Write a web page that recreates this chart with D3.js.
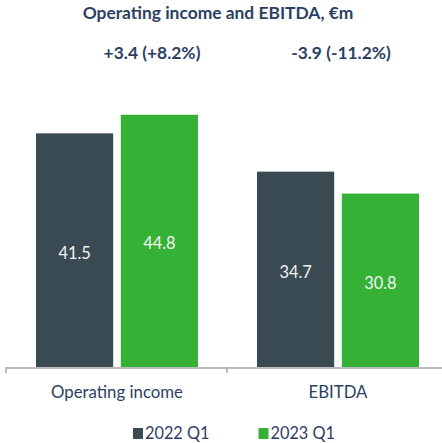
<!DOCTYPE html>
<html>
<head>
<meta charset="utf-8">
<script src="https://cdn.jsdelivr.net/npm/d3@7"></script>
<style>
  body { margin: 0; background: #fff; }
  svg { font-family: Lato, "Open Sans", sans-serif; }
</style>
</head>
<body>
<div id="chart"></div>
<script>
// data
var categories = ["Operating income", "EBITDA"];
var series = ["2022 Q1", "2023 Q1"];
var values2022 = [41.5, 34.7];
var values2023 = [44.8, 30.8];
var changes = ["+3.4 (+8.2%)", "-3.9 (-11.2%)"];
var title = "Operating income and EBITDA, €m";

var width = 442, height = 443;
var colors = ["#3a4a52", "#35b236"];
var textColor = "#2c3f63";

var svg = d3.select("#chart").append("svg")
    .attr("width", width)
    .attr("height", height);

var rows = categories.map(function (c, i) {
    return { cat: c, vals: [values2022[i], values2023[i]], change: changes[i] };
});

var x0 = d3.scaleBand().domain(categories).range([6, 448]).paddingInner(0).paddingOuter(0);
var x1 = d3.scaleBand().domain(series).range([30, 192]).paddingInner(0.09).paddingOuter(0);
var y = d3.scaleLinear().domain([0, 45]).range([367, 367 - 45 * 5.63]);

// title
svg.append("text")
    .attr("x", 218).attr("y", 19)
    .attr("text-anchor", "middle")
    .attr("font-size", 17.4).attr("font-weight", "bold")
    .attr("fill", textColor)
    .text(title);

var group = svg.selectAll(".grp")
    .data(rows)
    .enter().append("g")
    .attr("class", "grp")
    .attr("transform", function (d) { return "translate(" + x0(d.cat) + ",0)"; });

group.selectAll("rect")
    .data(function (d) { return d.vals.map(function (v, i) { return { s: series[i], v: v, i: i }; }); })
    .enter().append("rect")
    .attr("x", function (d) { return x1(d.s); })
    .attr("width", x1.bandwidth())
    .attr("y", function (d) { return y(d.v); })
    .attr("height", function (d) { return y(0) - y(d.v); })
    .attr("fill", function (d) { return colors[d.i]; });

// value labels inside bars
group.selectAll(".val")
    .data(function (d) { return d.vals.map(function (v, i) { return { s: series[i], v: v }; }); })
    .enter().append("text")
    .attr("x", function (d) { return x1(d.s) + x1.bandwidth() / 2; })
    .attr("y", function (d) { return (y(d.v) + y(0)) / 2 + 8.5; })
    .attr("text-anchor", "middle")
    .attr("font-size", 16.4)
    .attr("fill", "#f2f2f2")
    .text(function (d) { return d3.format(".1f")(d.v); });

// change labels
group.append("text")
    .attr("x", function (d, i) { return i == 0 ? 146 : 114; })
    .attr("y", 58.5)
    .attr("text-anchor", "middle")
    .attr("font-size", 17.4).attr("font-weight", "bold")
    .attr("fill", textColor)
    .text(function (d) { return d.change; });

// axis
var axis = svg.append("g")
    .attr("transform", "translate(0," + 367.5 + ")")
    .call(d3.axisBottom(x0).tickSize(0).tickFormat(""));
axis.select(".domain").attr("stroke", "#a6a6a6").attr("stroke-width", 1.5);
axis.selectAll(".tick").remove();

svg.selectAll(".sep")
    .data([6, x0(categories[1])])
    .enter().append("line")
    .attr("x1", function (d) { return d; }).attr("x2", function (d) { return d; })
    .attr("y1", 367).attr("y2", 373)
    .attr("stroke", "#a6a6a6").attr("stroke-width", 1.5);

group.append("text")
    .attr("x", 111)
    .attr("y", 397.5)
    .attr("text-anchor", "middle")
    .attr("font-size", 16.8)
    .attr("fill", textColor)
    .text(function (d) { return d.cat; });

// legend
var legend = svg.selectAll(".leg")
    .data(series)
    .enter().append("g")
    .attr("class", "leg")
    .attr("transform", function (d, i) { return "translate(" + (133 + i * 125.5) + ",0)"; });

legend.append("rect")
    .attr("x", 0).attr("y", 428)
    .attr("width", 10).attr("height", 11)
    .attr("fill", function (d, i) { return colors[i]; });

legend.append("text")
    .attr("x", 12).attr("y", 439)
    .attr("font-size", 16.3)
    .attr("fill", textColor)
    .text(function (d) { return d; });
</script>
</body>
</html>
